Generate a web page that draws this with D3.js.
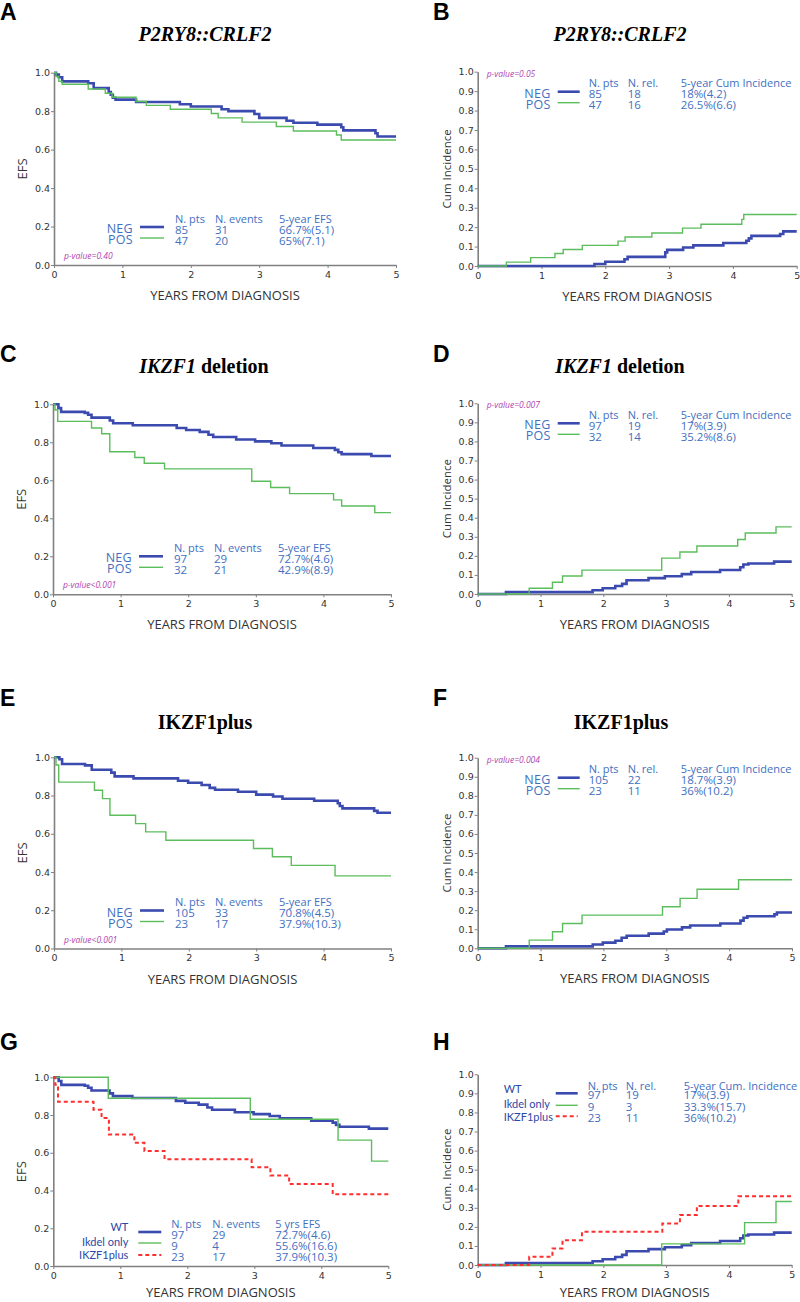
<!DOCTYPE html>
<html>
<head>
<meta charset="utf-8">
<script src="https://cdn.jsdelivr.net/npm/d3@7"></script>
<style>
  body { margin: 0; background: #fff; }
  svg { display: block; }
</style>
</head>
<body>
<script>
// ---- data: step points [years, value], value holds until next step ----
const xTickValues = [0, 1, 2, 3, 4, 5];
const efsTickValues = [0, 0.2, 0.4, 0.6, 0.8, 1.0];
const ciTickValues = [0, 0.1, 0.2, 0.3, 0.4, 0.5, 0.6, 0.7, 0.8, 0.9, 1.0];

// A: P2RY8::CRLF2 EFS
const p2ryEfsNeg = [[0,1],[0.03,0.99],[0.07,0.976],[0.12,0.955],[0.5,0.945],[0.58,0.92],[0.8,0.9],[0.83,0.885],[0.86,0.87],[0.9,0.86],[1.2,0.848],[1.84,0.836],[2.0,0.824],[2.45,0.81],[2.55,0.8],[2.93,0.785],[3.0,0.765],[3.4,0.75],[3.5,0.74],[3.85,0.73],[4.2,0.716],[4.23,0.7],[4.7,0.685],[4.73,0.668]];
const p2ryEfsPos = [[0,1],[0.03,0.98],[0.07,0.955],[0.12,0.94],[0.5,0.915],[0.75,0.893],[0.85,0.872],[1.2,0.85],[1.35,0.83],[1.7,0.81],[2.3,0.788],[2.4,0.765],[2.75,0.743],[3.25,0.72],[3.5,0.697],[4.13,0.676],[4.2,0.65]];
// B: P2RY8::CRLF2 cumulative incidence
const p2ryCiNeg = [[0,0],[1.83,0.01],[2.0,0.022],[2.3,0.035],[2.35,0.047],[2.94,0.07],[2.97,0.083],[3.22,0.095],[3.38,0.106],[3.85,0.118],[4.21,0.13],[4.25,0.142],[4.29,0.155],[4.74,0.165],[4.79,0.178]];
const p2ryCiPos = [[0,0],[0.45,0.02],[0.83,0.043],[1.21,0.064],[1.34,0.085],[1.64,0.106],[2.2,0.128],[2.31,0.149],[2.73,0.17],[3.21,0.195],[3.5,0.215],[4.14,0.24],[4.17,0.265]];
// C: IKZF1 deletion EFS
const ikzfEfsNeg = [[0,1],[0.08,0.98],[0.12,0.96],[0.47,0.955],[0.52,0.945],[0.57,0.93],[0.84,0.915],[0.89,0.9],[1.18,0.89],[1.83,0.875],[1.97,0.865],[2.17,0.855],[2.3,0.84],[2.37,0.828],[2.71,0.815],[2.99,0.805],[3.23,0.795],[3.38,0.783],[3.85,0.77],[4.17,0.76],[4.22,0.748],[4.27,0.738],[4.71,0.728]];
const ikzfEfsPos = [[0,1],[0.03,0.97],[0.07,0.91],[0.57,0.875],[0.72,0.845],[0.84,0.75],[1.21,0.72],[1.35,0.69],[1.65,0.66],[2.94,0.595],[3.22,0.562],[3.5,0.53],[4.15,0.497],[4.27,0.465],[4.76,0.43]];
// D: IKZF1 deletion cumulative incidence
const ikzfCiNeg = [[0,0],[0.45,0.01],[1.83,0.02],[1.99,0.03],[2.19,0.042],[2.3,0.053],[2.37,0.072],[2.72,0.083],[2.98,0.093],[3.25,0.104],[3.4,0.115],[3.86,0.126],[4.18,0.14],[4.23,0.155],[4.31,0.16],[4.72,0.17]];
const ikzfCiPos = [[0,0],[0.82,0.03],[1.19,0.062],[1.35,0.094],[1.66,0.125],[2.93,0.188],[3.22,0.22],[3.49,0.252],[4.14,0.286],[4.26,0.32],[4.75,0.352]];
// E: IKZF1plus EFS
const plusEfsNeg = [[0,1],[0.08,0.99],[0.12,0.965],[0.46,0.958],[0.56,0.935],[0.85,0.92],[0.9,0.9],[1.18,0.89],[1.84,0.877],[1.99,0.867],[2.19,0.855],[2.31,0.84],[2.39,0.83],[2.73,0.82],[3.0,0.805],[3.25,0.795],[3.39,0.783],[3.86,0.773],[4.21,0.76],[4.24,0.745],[4.28,0.733],[4.75,0.72],[4.8,0.71]];
const plusEfsPos = [[0,1],[0.03,0.96],[0.07,0.87],[0.6,0.828],[0.72,0.784],[0.83,0.697],[1.21,0.653],[1.36,0.61],[1.66,0.566],[2.96,0.523],[3.24,0.48],[3.52,0.435],[4.17,0.38]];
// F: IKZF1plus cumulative incidence
const plusCiNeg = [[0,0],[0.45,0.01],[1.83,0.02],[1.99,0.03],[2.19,0.04],[2.29,0.055],[2.37,0.066],[2.72,0.077],[2.96,0.088],[3.01,0.099],[3.25,0.11],[3.38,0.12],[3.86,0.13],[4.18,0.145],[4.23,0.16],[4.29,0.168],[4.72,0.178],[4.76,0.188]];
const plusCiPos = [[0,0],[0.82,0.043],[1.19,0.087],[1.35,0.13],[1.66,0.174],[2.94,0.218],[3.22,0.262],[3.49,0.31],[4.15,0.36]];
// G/H: Ikdel only (WT and IKZF1plus reuse the series above)
const ikdelOnlyEfs = [[0,1],[0.82,0.889],[2.94,0.778],[4.25,0.667],[4.75,0.556]];
const ikdelOnlyCi = [[0,0],[2.93,0.111],[4.25,0.222],[4.75,0.333]];

// legend tables
const efsHeader = ["N. pts", "N. events", "5-year EFS"];
const ciHeader = ["N. pts", "N. rel.", "5-year Cum Incidence"];
const groupHeaderEfs = ["N. pts", "N. events", "5 yrs EFS"];
const groupHeaderCi = ["N. pts", "N. rel.", "5-year Cum. Incidence"];
const p2ryEfsRows = [["NEG", "85", "31", "66.7%(5.1)"], ["POS", "47", "20", "65%(7.1)"]];
const p2ryCiRows = [["NEG", "85", "18", "18%(4.2)"], ["POS", "47", "16", "26.5%(6.6)"]];
const ikzfEfsRows = [["NEG", "97", "29", "72.7%(4.6)"], ["POS", "32", "21", "42.9%(8.9)"]];
const ikzfCiRows = [["NEG", "97", "19", "17%(3.9)"], ["POS", "32", "14", "35.2%(8.6)"]];
const plusEfsRows = [["NEG", "105", "33", "70.8%(4.5)"], ["POS", "23", "17", "37.9%(10.3)"]];
const plusCiRows = [["NEG", "105", "22", "18.7%(3.9)"], ["POS", "23", "11", "36%(10.2)"]];
const groupEfsRows = [["WT", "97", "29", "72.7%(4.6)"], ["Ikdel only", "9", "4", "55.6%(16.6)"], ["IKZF1plus", "23", "17", "37.9%(10.3)"]];
const groupCiRows = [["WT", "97", "19", "17%(3.9)"], ["Ikdel only", "9", "3", "33.3%(15.7)"], ["IKZF1plus", "23", "11", "36%(10.2)"]];
const pValues = ["p-value=0.40", "p-value=0.05", "p-value<0.001", "p-value=0.007", "p-value<0.001", "p-value=0.004"];

// ---- styles ----
const BLUE = "#3a4aae", GREEN = "#5cbd5c", RED = "#ff2e2e";
const TEXT_BLUE = "#4270bf", P_COLOR = "#b03fb0", AXIS = "#808080";
const blueStyle = { color: BLUE, width: 2.6 };
const greenStyle = { color: GREEN, width: 1.4 };
const redStyle = { color: RED, width: 2, dash: "4,3" };

// legend layouts, offsets from plot corner
const efsLayout = { anchorY: "bottom", labelX: 79, labelAnchor: "end", labelYs: [-32, -21], lineX: [86, 110], lineYs: [-38, -27],
  colXs: [121, 161, 225], headerY: -42.5, valueYs: [-31.5, -20.5], pval: [10, -6] };
const ciLayout = { anchorY: "top", labelX: 73, labelAnchor: "end", labelYs: [26, 37], lineX: [80, 102], lineYs: [20, 31],
  colXs: [111, 150, 203], headerY: 15.5, valueYs: [26.5, 37.5], pval: [9, 5] };
const groupEfsLayout = { anchorY: "bottom", labelX: 75, labelAnchor: "end", labelYs: [-35, -20, -7], lineX: [85, 108], lineYs: [-34, -23, -11],
  colXs: [118, 159, 222], headerY: -38.5, valueYs: [-27.5, -16.5, -5], groupFont: true };
const groupCiLayout = { anchorY: "top", labelX: 26, labelAnchor: "start", labelYs: [19, 34, 47], lineX: [78, 100], lineYs: [19, 31, 42],
  colXs: [110, 148, 206], headerY: 15.5, valueYs: [25, 36.5, 48], groupFont: true };

const titleP2ry = [["P2RY8::CRLF2", true]];
const titleIkzf = [["IKZF1", true], [" deletion", false]];
const titlePlus = [["IKZF1plus", false]];

const panels = [
  { letter: "A", lx: 0, ly: 20, box: [54, 396, 72.7, 265], title: titleP2ry, tx: 205, ty: 41, yLabel: "EFS", yTicks: efsTickValues,
    series: [[p2ryEfsNeg, blueStyle], [p2ryEfsPos, greenStyle]], header: efsHeader, rows: p2ryEfsRows, layout: efsLayout, p: pValues[0] },
  { letter: "B", lx: 433, ly: 20, box: [477.7, 796.7, 71.7, 266], title: titleP2ry, tx: 620, ty: 41, yLabel: "Cum Incidence", yTicks: ciTickValues,
    series: [[p2ryCiNeg, blueStyle], [p2ryCiPos, greenStyle]], header: ciHeader, rows: p2ryCiRows, layout: ciLayout, p: pValues[1] },
  { letter: "C", lx: 0, ly: 362, box: [53, 391, 404.3, 594.3], title: titleIkzf, tx: 204, ty: 373, yLabel: "EFS", yTicks: efsTickValues,
    series: [[ikzfEfsNeg, blueStyle], [ikzfEfsPos, greenStyle]], header: efsHeader, rows: ikzfEfsRows, layout: efsLayout, p: pValues[2] },
  { letter: "D", lx: 433, ly: 362, box: [477.7, 791.7, 403.3, 594], title: titleIkzf, tx: 620, ty: 373, yLabel: "Cum Incidence", yTicks: ciTickValues,
    series: [[ikzfCiNeg, blueStyle], [ikzfCiPos, greenStyle]], header: ciHeader, rows: ikzfCiRows, layout: ciLayout, p: pValues[3] },
  { letter: "E", lx: 0, ly: 706, box: [54, 391, 757.3, 948.5], title: titlePlus, tx: 205, ty: 729, yLabel: "EFS", yTicks: efsTickValues,
    series: [[plusEfsNeg, blueStyle], [plusEfsPos, greenStyle]], header: efsHeader, rows: plusEfsRows, layout: efsLayout, p: pValues[4] },
  { letter: "F", lx: 433, ly: 706, box: [477.7, 792, 757.7, 948.3], title: titlePlus, tx: 621, ty: 729, yLabel: "Cum Incidence", yTicks: ciTickValues,
    series: [[plusCiNeg, blueStyle], [plusCiPos, greenStyle]], header: ciHeader, rows: plusCiRows, layout: ciLayout, p: pValues[5] },
  { letter: "G", lx: 0, ly: 1050, box: [53.3, 388.3, 1077.3, 1266], title: null, yLabel: "EFS", yTicks: efsTickValues,
    series: [[ikzfEfsNeg, blueStyle], [ikdelOnlyEfs, greenStyle], [plusEfsPos, redStyle]], header: groupHeaderEfs, rows: groupEfsRows, layout: groupEfsLayout, p: null },
  { letter: "H", lx: 433, ly: 1050, box: [477.7, 791.7, 1074.3, 1265], title: null, yLabel: "Cum. Incidence", yTicks: ciTickValues,
    series: [[ikzfCiNeg, blueStyle], [ikdelOnlyCi, greenStyle], [plusCiPos, redStyle]], header: groupHeaderCi, rows: groupCiRows, layout: groupCiLayout, p: null }
];

const svg = d3.select("body").append("svg").attr("width", 800).attr("height", 1302);

panels.forEach(drawPanel);

function drawPanel(p) {
  const [l, r, t, b] = p.box;
  const x = d3.scaleLinear().domain([0, 5]).range([l, r]);
  const y = d3.scaleLinear().domain([0, 1]).range([b, t]);
  const g = svg.append("g");

  // panel letter
  g.append("text").attr("x", p.lx).attr("y", p.ly)
    .attr("font-family", "Liberation Sans, Arial, sans-serif").attr("font-weight", "bold")
    .attr("font-size", 23).attr("fill", "#000").text(p.letter);

  // title with italic gene names
  if (p.title) {
    const tt = g.append("text").attr("x", p.tx).attr("y", p.ty).attr("text-anchor", "middle")
      .attr("font-family", "Liberation Serif, Times New Roman, serif").attr("font-weight", "bold")
      .attr("font-size", 20).attr("fill", "#000");
    p.title.forEach(([s, it]) => tt.append("tspan").attr("font-style", it ? "italic" : "normal").text(s));
  }

  // axes
  const xAxis = g.append("g").attr("transform", `translate(0,${b})`)
    .call(d3.axisBottom(x).tickValues(xTickValues).tickFormat(d3.format("d")).tickSize(3).tickSizeOuter(0));
  const yAxis = g.append("g").attr("transform", `translate(${l},0)`)
    .call(d3.axisLeft(y).tickValues(p.yTicks).tickFormat(d3.format(".1f")).tickSize(3).tickSizeOuter(0));
  [xAxis, yAxis].forEach(a => {
    a.select(".domain").attr("stroke", AXIS).attr("stroke-width", 1.6);
    a.selectAll(".tick line").attr("stroke", AXIS).attr("stroke-width", 1);
    a.selectAll(".tick text").attr("fill", "#333").attr("font-family", "DejaVu Sans, sans-serif").attr("font-size", 9.5);
  });
  xAxis.selectAll(".tick text").attr("dy", "0.9em").attr("y", 4);
  yAxis.selectAll(".tick text").attr("x", -4);

  // axis titles
  g.append("text").attr("x", (l + r) / 2).attr("y", Math.min(b + 35, 1297)).attr("text-anchor", "middle")
    .attr("font-family", "Open Sans, sans-serif").attr("font-size", 13).attr("fill", "#333")
    .text("YEARS FROM DIAGNOSIS");
  g.append("text").attr("transform", `translate(${l - 27},${(t + b) / 2}) rotate(-90)`).attr("text-anchor", "middle")
    .attr("font-family", "Open Sans, sans-serif").attr("font-size", p.yLabel === "EFS" ? 13 : 11.5).attr("fill", "#333")
    .text(p.yLabel);

  // step curves
  const line = d3.line().x(d => x(d[0])).y(d => y(d[1])).curve(d3.curveStepAfter);
  p.series.forEach(([pts, st]) => {
    const full = pts.concat([[5, pts[pts.length - 1][1]]]);
    g.append("path").datum(full).attr("d", line).attr("fill", "none")
      .attr("stroke", st.color).attr("stroke-width", st.width)
      .attr("stroke-dasharray", st.dash || null);
  });

  drawLegend(g, p, l, p.layout.anchorY === "top" ? t : b);
}

function drawLegend(g, p, ox, oy) {
  const L = p.layout;
  const font = "Open Sans, sans-serif";
  // column headers
  p.header.forEach((h, i) => {
    g.append("text").attr("x", ox + L.colXs[i]).attr("y", oy + L.headerY)
      .attr("font-family", font).attr("font-size", 11).attr("fill", TEXT_BLUE).text(h);
  });
  p.rows.forEach((row, ri) => {
    const st = p.series[ri][1];
    g.append("text").attr("x", ox + L.labelX).attr("y", oy + L.labelYs[ri]).attr("text-anchor", L.labelAnchor)
      .attr("font-family", L.groupFont ? "Lato, sans-serif" : font)
      .attr("font-size", L.groupFont ? 11 : 12.5).attr("letter-spacing", L.groupFont ? 0 : 0.3)
      .attr("fill", L.groupFont ? "#2d48a6" : TEXT_BLUE).text(row[0]);
    g.append("line").attr("x1", ox + L.lineX[0]).attr("x2", ox + L.lineX[1])
      .attr("y1", oy + L.lineYs[ri]).attr("y2", oy + L.lineYs[ri])
      .attr("stroke", st.color).attr("stroke-width", st.width).attr("stroke-dasharray", st.dash || null);
    row.slice(1).forEach((v, ci) => {
      g.append("text").attr("x", ox + L.colXs[ci]).attr("y", oy + L.valueYs[ri])
        .attr("font-family", font).attr("font-size", 11.5).attr("fill", TEXT_BLUE).text(v);
    });
  });
  if (p.p) {
    g.append("text").attr("x", ox + L.pval[0]).attr("y", oy + L.pval[1])
      .attr("font-family", font).attr("font-style", "italic").attr("font-size", 8.5)
      .attr("fill", P_COLOR).text(p.p);
  }
}
</script>
</body>
</html>
